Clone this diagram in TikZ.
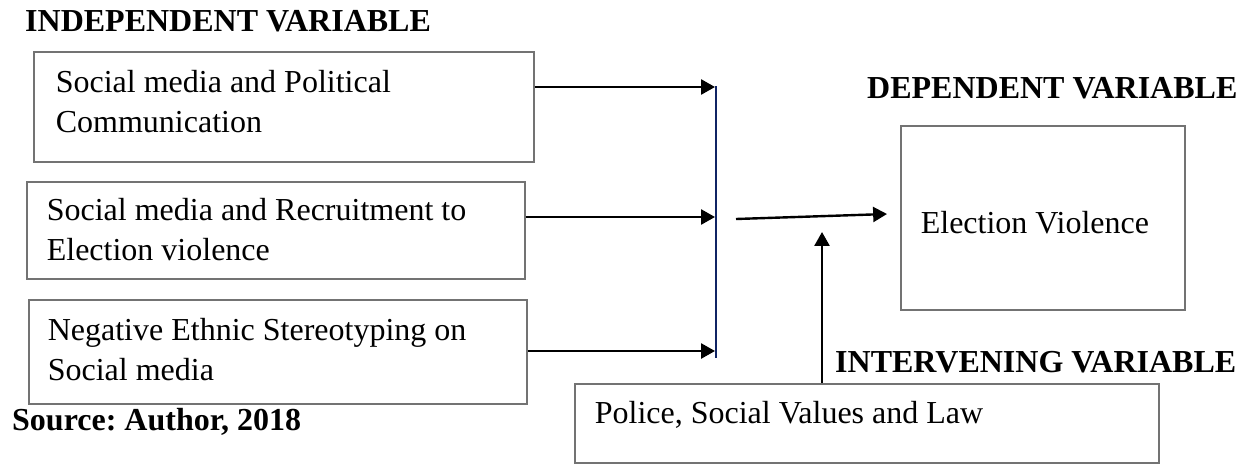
\documentclass[tikz,border=0pt]{standalone}
\usepackage{fontspec}
\setmainfont{Liberation Serif}
\usepackage[dvipsnames]{xcolor}
\usetikzlibrary{arrows.meta}
\definecolor{busblue}{RGB}{16,36,100}

\begin{document}
\begin{tikzpicture}[x=0.375pt,y=-0.375pt,>={Triangle[length=5.2pt,width=5.6pt]},line width=0.9pt,
    var node/.style={draw=black!55,line width=0.6pt,rectangle,anchor=north west,inner ysep=0pt,font=\fontsize{12}{15}\selectfont,
        execute at begin node={\frenchspacing\spaceskip=0.25em plus 0.1em minus 0.05em}},
    head node/.style={anchor=base west,inner sep=0pt,font=\fontsize{12}{15}\selectfont\bfseries,
        execute at begin node={\frenchspacing}}]

            \useasboundingbox (0,0) rectangle (1257,464);

            \node[head node] (ivh) at (24,32) {INDEPENDENT VARIABLE};
            \node[var node, inner xsep=8.25pt, text width=171pt, text height=15.375pt, text depth=25.875pt] (iv1) at (33,51) {Social media and Political\\Communication};
            \node[var node, inner xsep=7.5pt, text width=171.75pt, text height=14.625pt, text depth=21.75pt] (iv2) at (26,181) {Social media and Recruitment to\\Election violence};
            \node[var node, inner xsep=7.125pt, text width=172.5pt, text height=15.375pt, text depth=23.625pt] (iv3) at (28,299) {Negative Ethnic Stereotyping on\\Social media};
            \node[head node] (src) at (11,430) {Source: Author, 2018};

            \node[head node] (dvh) at (866,98) {DEPENDENT VARIABLE};
            \node[var node, inner xsep=7.5pt, text width=91.5pt, text height=40.5pt, text depth=28.5pt] (dv) at (900,125) {Election Violence};

            \node[head node] (mvh) at (834,372) {INTERVENING VARIABLE};
            \node[var node, inner xsep=7.5pt, text width=204pt, text height=15pt, text depth=14.625pt] (mv) at (574,383) {Police, Social Values and Law};

            \coordinate (b1) at (715,87);
            \coordinate (b2) at (715,217);
            \coordinate (b3) at (715,351);
            \coordinate (bustop) at (716,86);
            \coordinate (busbot) at (716,358);
            \coordinate (m0) at (736,219);
            \coordinate (m1) at (887,214);
            \coordinate (mv0) at (822,232);

                \draw[->] (iv1.east |- b1) -- (b1);
                \draw[->] (iv2.east |- b2) -- (b2);
                \draw[->] (iv3.east |- b3) -- (b3);
                \draw[busblue, line width=0.75pt] (bustop) -- (busbot);
                \draw[->] (m0) -- (m1);
                \draw[->] (mv.north -| mv0) -- (mv0);
            ;
\end{tikzpicture}
\end{document}
